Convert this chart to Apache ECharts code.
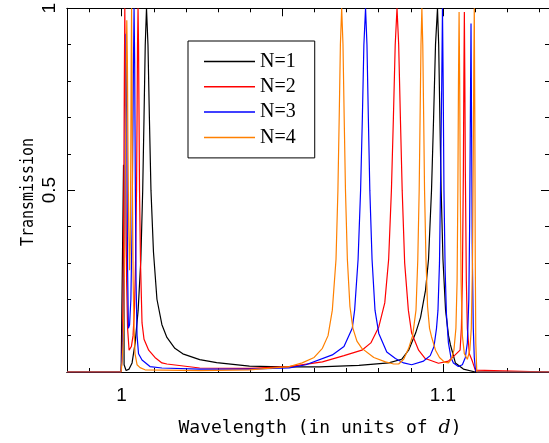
<!DOCTYPE html>
<html>
<head>
<meta charset="utf-8">
<script src="https://cdn.jsdelivr.net/npm/echarts@6/dist/echarts.min.js"></script>
<style>
    html, body { margin: 0; padding: 0; background: #fff; }
    #main { width: 549px; height: 443px; }
</style>
</head>
<body>
<div id="main"></div>
<script>
// transmission, [wavelength, T]
var n1 = [
    [0.983, 0], [0.99985, 0], [1.00046, 0], [1.00059, 0.57], [1.00077, 0.02], [1.00139, 0.004],
    [1.00232, 0.008], [1.00325, 0.025], [1.00421, 0.08], [1.00514, 0.17], [1.00598, 0.31],
    [1.00656, 0.5], [1.00697, 0.7], [1.00735, 0.9], [1.00774, 1], [1.00820, 0.9],
    [1.00864, 0.7], [1.00913, 0.5], [1.00991, 0.33], [1.01099, 0.2], [1.01254, 0.13],
    [1.01409, 0.095], [1.01656, 0.065], [1.01904, 0.05], [1.02430, 0.034],
    [1.02957, 0.026], [1.03978, 0.016], [1.05000, 0.014], [1.06146, 0.014], [1.07384, 0.018],
    [1.08313, 0.025], [1.08715, 0.035], [1.08932, 0.06], [1.09149, 0.107], [1.09303, 0.15],
    [1.09458, 0.225], [1.09551, 0.31], [1.09644, 0.5], [1.09709, 0.7], [1.09768, 0.9],
    [1.09830, 1], [1.09867, 0.9], [1.09904, 0.7], [1.09944, 0.5], [1.10000, 0.31],
    [1.10081, 0.17], [1.10173, 0.1], [1.10232, 0.075], [1.10387, 0.025], [1.10635, 0.008],
    [1.11006, 0], [1.133, 0],
]
var n2 = [
    [0.983, 0], [0.99985, 0], [1.00015, 0.05], [1.00046, 0.2], [1.00068, 0.5], [1.00084, 0.8],
    [1.00099, 1], [1.00115, 0.8], [1.00130, 0.5], [1.00155, 0.25], [1.00186, 0.12],
    [1.00232, 0.06], [1.00303, 0.07], [1.00356, 0.1], [1.00402, 0.18], [1.00433, 0.3],
    [1.00464, 0.5], [1.00480, 0.7], [1.00495, 0.9], [1.00511, 1], [1.00526, 0.9],
    [1.00542, 0.7], [1.00557, 0.5], [1.00588, 0.3], [1.00635, 0.135], [1.00697, 0.09],
    [1.00842, 0.06], [1.01037, 0.04], [1.01254, 0.025], [1.01409, 0.022], [1.02430, 0.011],
    [1.03978, 0.01], [1.05217, 0.015], [1.06248, 0.028], [1.06920, 0.045], [1.07477, 0.06],
    [1.07756, 0.08], [1.08003, 0.124], [1.08189, 0.19], [1.08310, 0.31], [1.08396, 0.5],
    [1.08458, 0.7], [1.08514, 0.9], [1.08570, 1], [1.08622, 0.9], [1.08675, 0.7],
    [1.08731, 0.5], [1.08808, 0.3], [1.08923, 0.17], [1.09025, 0.107], [1.09242, 0.06],
    [1.09449, 0.037], [1.09861, 0.024], [1.10170, 0.03], [1.10356, 0.045], [1.10533, 0.06],
    [1.10573, 0.12], [1.10604, 0.25], [1.10635, 0.55], [1.10650, 0.8], [1.10666, 0.99],
    [1.10681, 0.8], [1.10697, 0.55], [1.10728, 0.25], [1.10759, 0.12], [1.10821, 0.05],
    [1.10913, 0.03], [1.11006, 0.005], [1.11037, 0], [1.133, 0],
]
var n3 = [
    [0.983, 0], [0.99985, 0], [1.00015, 0.05], [1.00062, 0.15], [1.00093, 0.35], [1.00118, 0.7],
    [1.00139, 0.93], [1.00161, 0.7], [1.00183, 0.3], [1.00211, 0.12], [1.00248, 0.13],
    [1.00288, 0.2], [1.00325, 0.4], [1.00350, 0.65], [1.00368, 0.85], [1.00387, 1],
    [1.00406, 0.85], [1.00424, 0.55], [1.00449, 0.25], [1.00480, 0.1], [1.00526, 0.05],
    [1.00635, 0.033], [1.00882, 0.015], [1.01254, 0.011], [1.02430, 0.008], [1.03978, 0.008],
    [1.05217, 0.011], [1.05734, 0.02], [1.06557, 0.047], [1.06920, 0.07], [1.07177, 0.12],
    [1.07251, 0.17], [1.07359, 0.31], [1.07437, 0.5], [1.07492, 0.7], [1.07539, 0.9],
    [1.07591, 1], [1.07635, 0.9], [1.07678, 0.7], [1.07724, 0.5], [1.07793, 0.31],
    [1.07885, 0.17], [1.08003, 0.106], [1.08251, 0.055], [1.08520, 0.037], [1.08777, 0.025],
    [1.09025, 0.02], [1.09396, 0.03], [1.09604, 0.045], [1.09721, 0.07], [1.09799, 0.12],
    [1.09845, 0.17], [1.09892, 0.3], [1.09923, 0.5], [1.09963, 0.8], [1.09985, 1],
    [1.10006, 0.8], [1.10031, 0.5], [1.10068, 0.28], [1.10108, 0.16], [1.10170, 0.08],
    [1.10248, 0.04], [1.10325, 0.025], [1.10480, 0.015], [1.10604, 0.02], [1.10697, 0.04],
    [1.10759, 0.08], [1.10805, 0.2], [1.10830, 0.4], [1.10849, 0.65], [1.10873, 0.958],
    [1.10892, 0.65], [1.10910, 0.35], [1.10944, 0.12], [1.10975, 0.04], [1.11006, 0.01],
    [1.11037, 0], [1.133, 0],
]
var n4 = [
    [0.983, 0], [0.99985, 0], [1.00015, 0.03], [1.00046, 0.08], [1.00077, 0.2], [1.00102, 0.4],
    [1.00124, 0.65], [1.00142, 0.85], [1.00161, 0.967], [1.00180, 0.85], [1.00198, 0.6],
    [1.00220, 0.4], [1.00248, 0.28], [1.00269, 0.35], [1.00285, 0.6], [1.00297, 0.85],
    [1.00310, 1], [1.00322, 0.8], [1.00337, 0.5], [1.00359, 0.25], [1.00387, 0.12],
    [1.00418, 0.05], [1.00480, 0.02], [1.00573, 0.012], [1.00728, 0.006], [1.02430, 0.004],
    [1.03978, 0.006], [1.05217, 0.015], [1.05619, 0.025], [1.05991, 0.04], [1.06248, 0.065],
    [1.06424, 0.1], [1.06557, 0.17], [1.06672, 0.31], [1.06731, 0.5], [1.06771, 0.7],
    [1.06808, 0.9], [1.06848, 1], [1.06889, 0.9], [1.06926, 0.7], [1.06966, 0.5],
    [1.07025, 0.31], [1.07105, 0.18], [1.07198, 0.12], [1.07322, 0.085], [1.07477, 0.065],
    [1.07848, 0.04], [1.08211, 0.028], [1.08468, 0.022], [1.08622, 0.022], [1.08777, 0.035],
    [1.08932, 0.065], [1.09056, 0.1], [1.09161, 0.17], [1.09217, 0.31], [1.09260, 0.5],
    [1.09288, 0.7], [1.09316, 0.9], [1.09344, 1], [1.09372, 0.9], [1.09400, 0.7],
    [1.09427, 0.5], [1.09471, 0.31], [1.09521, 0.18], [1.09582, 0.12], [1.09644, 0.097],
    [1.09768, 0.06], [1.09892, 0.04], [1.10047, 0.027], [1.10170, 0.025], [1.10263, 0.035],
    [1.10341, 0.06], [1.10403, 0.12], [1.10440, 0.25], [1.10464, 0.5], [1.10483, 0.8],
    [1.10502, 0.99], [1.10520, 0.8], [1.10539, 0.5], [1.10564, 0.25], [1.10604, 0.1],
    [1.10666, 0.05], [1.10759, 0.035], [1.10836, 0.06], [1.10882, 0.12], [1.10919, 0.3],
    [1.10944, 0.6], [1.10960, 0.85], [1.10975, 1], [1.10991, 0.7], [1.11006, 0.3],
    [1.11022, 0.08], [1.11053, 0], [1.133, 0],
]

var names = ['N=1', 'N=2', 'N=3', 'N=4']
var colors = ['#000000', '#ff0000', '#0000ff', '#ff8000']

var xMajor = [1, 1.05, 1.1]
var xMinor = [0.99, 1.01, 1.02, 1.03, 1.04, 1.06, 1.07, 1.08, 1.09, 1.11, 1.12, 1.13]

var xMin = 0.983
var xMax = 1.133

var xAxisItem = (position, ticks, len, labels) => {
    return {
        type: 'value',
        position: position,
        min: xMin,
        max: xMax,
        axisLine: {show: true, onZero: false, lineStyle: {color: '#000', width: 1}},
        axisTick: {show: true, inside: true, length: len, customValues: ticks, lineStyle: {color: '#000'}},
        axisLabel: {
            show: labels,
            customValues: xMajor,
            margin: 14,
            color: '#000',
            fontSize: 19,
            fontFamily: 'Liberation Sans',
        },
        splitLine: {show: false},
    }
}

var yAxisItem = (position, labels) => {
    return {
        type: 'value',
        position: position,
        min: 0,
        max: 1,
        interval: 0.5,
        axisLine: {show: true, lineStyle: {color: '#000', width: 1}},
        axisTick: {show: true, inside: true, length: 8, lineStyle: {color: '#000'}},
        minorTick: {show: true, splitNumber: 5, length: 4, lineStyle: {color: '#000'}},
        axisLabel: {
            show: labels,
            rotate: 90,
            margin: 8,
            showMinLabel: false,
            color: '#000',
            fontSize: 19,
            fontFamily: 'Liberation Sans',
        },
        splitLine: {show: false},
    }
}

var showChart = () => {
    var element = document.querySelector('#main')
    var myChart = echarts.init(element)
    var all = [n1, n2, n3, n4]
    var series = []
    for (var i = 0; i < all.length; i++) {
        series.push({
            name: names[i],
            type: 'line',
            xAxisIndex: 0,
            yAxisIndex: 0,
            data: all[i],
            showSymbol: false,
            symbol: 'none',
            animation: false,
            lineStyle: {color: colors[i], width: 1.2},
            itemStyle: {color: colors[i]},
        })
    }
    var option = {
        animation: false,
        backgroundColor: '#fff',
        grid: {left: 67, top: 8, right: -2, bottom: 71},
        legend: {
            data: names,
            orient: 'vertical',
            left: 188,
            top: 41,
            icon: 'rect',
            itemWidth: 51,
            itemHeight: 1.5,
            itemGap: 5.3,
            padding: [10.5, 19, 10.5, 16],
            borderColor: '#000',
            borderWidth: 1,
            selectedMode: false,
            textStyle: {
                color: '#000',
                fontSize: 20,
                lineHeight: 20,
                fontFamily: 'Liberation Serif',
            },
        },
        xAxis: [
            xAxisItem('bottom', xMajor, 8, true),
            xAxisItem('bottom', xMinor, 4, false),
            xAxisItem('top', xMajor, 8, false),
            xAxisItem('top', xMinor, 4, false),
        ],
        yAxis: [
            yAxisItem('left', true),
            yAxisItem('right', false),
        ],
        graphic: [
            {
                type: 'text',
                x: 320,
                y: 428,
                style: {
                    text: '{a|Wavelength (in units of }{b|d}{a|)}',
                    textAlign: 'center',
                    textVerticalAlign: 'middle',
                    rich: {
                        a: {fontFamily: 'DejaVu Sans Mono', fontSize: 18, fill: '#000'},
                        b: {fontFamily: 'DejaVu Serif', fontStyle: 'italic', fontSize: 19, fill: '#000'},
                    },
                },
            },
            {
                // narrow, tall letters like the original
                type: 'text',
                x: 28,
                y: 192,
                rotation: Math.PI / 2,
                scaleX: 0.83,
                style: {
                    text: 'Transmission',
                    textAlign: 'center',
                    textVerticalAlign: 'middle',
                    fontFamily: 'DejaVu Sans Mono',
                    fontSize: 18,
                    fill: '#000',
                },
            },
        ],
        series: series,
    }
    myChart.setOption(option)
}

var __main = () => {
    showChart()
}
__main()
</script>
</body>
</html>
